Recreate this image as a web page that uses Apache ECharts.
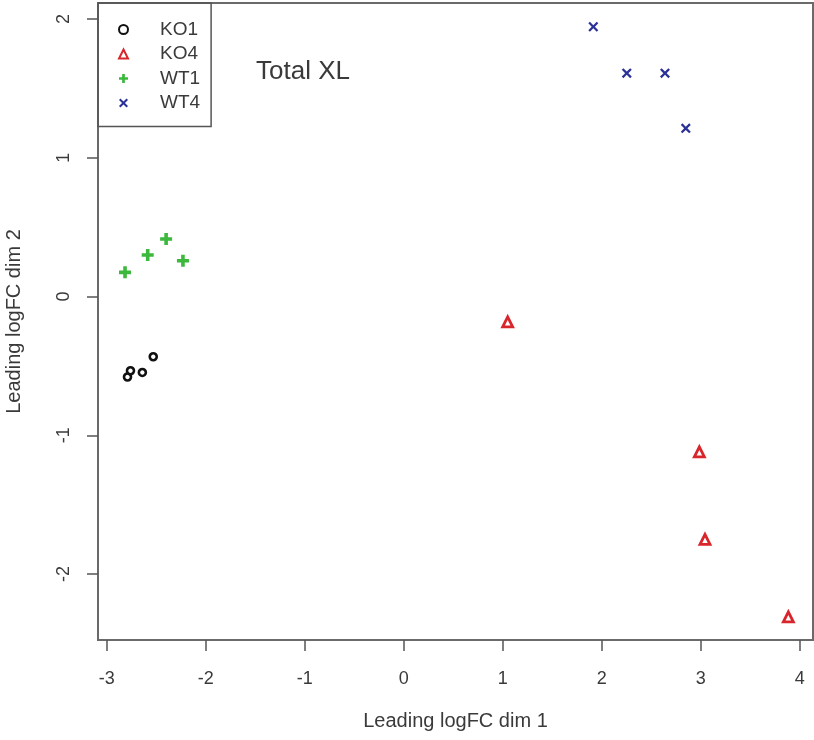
<!DOCTYPE html>
<html>
<head>
<meta charset="utf-8">
<script src="https://cdn.jsdelivr.net/npm/echarts@6/dist/echarts.min.js"></script>
<style>
  html, body { margin: 0; padding: 0; background: #fff; }
  #chart { width: 814px; height: 740px; }
</style>
</head>
<body>
<div id="chart"></div>
<script>
// MDS points: [dim1, dim2]
const ko1 = [[-2.79, -0.58], [-2.76, -0.535], [-2.64, -0.547], [-2.53, -0.434]];
const ko4 = [[1.05, -0.182], [2.986, -1.119], [3.043, -1.75], [3.885, -2.308]];
const wt1 = [[-2.815, 0.174], [-2.586, 0.299], [-2.40, 0.414], [-2.23, 0.258]];
const wt4 = [[1.915, 1.944], [2.253, 1.609], [2.639, 1.609], [2.849, 1.212]];

const groupNames = ['KO1', 'KO4', 'WT1', 'WT4'];
const xTicks = [-3, -2, -1, 0, 1, 2, 3, 4];
const yTicks = [-2, -1, 0, 1, 2];

const plusPath = 'path://M3.5,0H6.5V3.5H10V6.5H6.5V10H3.5V6.5H0V3.5H3.5Z';
const crossPath = 'path://M1.6,0L5,3.4L8.4,0L10,1.6L6.6,5L10,8.4L8.4,10L5,6.6L1.6,10L0,8.4L3.4,5L0,1.6Z';

const font = 'Liberation Sans, Arial, sans-serif';
const textColor = '#3a3a3a';

const chart = echarts.init(document.getElementById('chart'));

chart.setOption({
    animation: false,
    backgroundColor: '#fff',
    title: {
        text: 'Total XL',
        left: 251,
        top: 54,
        textStyle: { fontFamily: font, fontSize: 26, fontWeight: 'normal', color: textColor }
    },
    legend: {
        data: groupNames,
        orient: 'vertical',
        left: 98,
        top: 3,
        padding: [17, 11, 14, 20],
        itemWidth: 9,
        itemHeight: 9,
        itemGap: 5.5,
        borderColor: '#555',
        borderWidth: 1.5,
        textStyle: { fontFamily: font, fontSize: 19, color: textColor, padding: [0, 0, 0, 27], lineHeight: 19 }
    },
    grid: {
        left: 98, right: 1, top: 3, bottom: 100,
        outerBoundsMode: 'none',
        containLabel: false,
        show: true,
        borderColor: '#6a6a6a',
        borderWidth: 2,
        backgroundColor: 'transparent'
    },
    xAxis: {
        type: 'value',
        min: -3.088,
        max: 4.134,
        interval: 1,
        name: 'Leading logFC dim 1',
        nameLocation: 'middle',
        nameGap: 71,
        nameTextStyle: { fontFamily: font, fontSize: 20, color: textColor },
        axisLine: { show: false, onZero: false },
        axisTick: { show: true, length: 11, lineStyle: { color: '#555', width: 1.5 }, customValues: xTicks },
        axisLabel: { margin: 30, fontFamily: font, fontSize: 18, color: textColor, customValues: xTicks, formatter: v => String(v) },
        splitLine: { show: false }
    },
    yAxis: {
        type: 'value',
        min: -2.475,
        max: 2.115,
        interval: 1,
        name: 'Leading logFC dim 2',
        nameLocation: 'middle',
        nameGap: 74,
        nameTextStyle: { fontFamily: font, fontSize: 20, color: textColor },
        axisLine: { show: false, onZero: false },
        axisTick: { show: true, length: 11, lineStyle: { color: '#555', width: 1.5 }, customValues: yTicks },
        axisLabel: { margin: 25, rotate: 90, fontFamily: font, fontSize: 18, color: textColor, customValues: yTicks, formatter: v => String(v) },
        splitLine: { show: false }
    },
    series: [
        {
            name: 'KO1', type: 'scatter', data: ko1,
            symbol: 'circle', symbolSize: 7,
            itemStyle: { color: '#fff', borderColor: '#111', borderWidth: 2.6, opacity: 1 }
        },
        {
            name: 'KO4', type: 'scatter', data: ko4,
            symbol: 'triangle', symbolSize: 10,
            itemStyle: { color: '#fff', borderColor: '#d8262c', borderWidth: 2.8, opacity: 1 }
        },
        {
            name: 'WT1', type: 'scatter', data: wt1,
            symbol: plusPath, symbolSize: 12,
            itemStyle: { color: '#3cb83c', opacity: 1 }
        },
        {
            name: 'WT4', type: 'scatter', data: wt4,
            symbol: crossPath, symbolSize: 10,
            itemStyle: { color: '#2b3196', opacity: 1 }
        }
    ]
});
</script>
</body>
</html>
